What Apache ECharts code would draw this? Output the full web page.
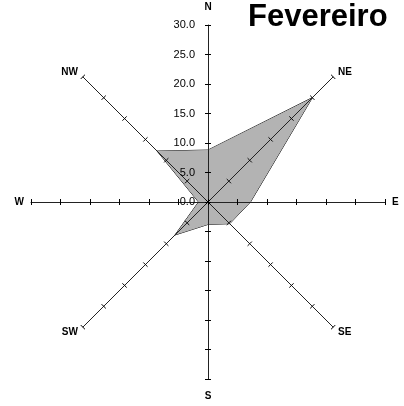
<!DOCTYPE html>
<html>
<head>
<meta charset="utf-8">
<script src="https://cdn.jsdelivr.net/npm/echarts@6/dist/echarts.min.js"></script>
<style>html,body{margin:0;padding:0;background:#fff}#c{width:404px;height:406px}</style>
</head>
<body>
<div id="c"></div>
<script>
// Directions in ECharts radar order (counter-clockwise from top)
const directions = ['N', 'NW', 'W', 'SW', 'S', 'SE', 'E', 'NE'];
const values = [8.8, 12.2, 1.6, 7.9, 3.8, 5.2, 7.2, 25.0];
const axisMin = 0;
const axisMax = 30;
const tickStep = 5;
const titleText = 'Fevereiro';

const FONT = '"Liberation Sans", Arial, sans-serif';
const center = [208, 202];
const radius = 177;

function nameGapFor(d) {
  if (d === 'N') return 13;
  if (d === 'S') return 12;
  return 7;
}

const indicators0 = directions.map(d => ({
  name: d, min: axisMin, max: axisMax, nameGap: nameGapFor(d),
  axisLabel: d === 'N' ? {show: true} : {show: false}
}));
// second radar: same axes, ticks drawn on the other side
const indicators1 = directions.map(d => ({ name: '', min: axisMin, max: axisMax }));

const chart = echarts.init(document.getElementById('c'), null, {renderer: 'canvas'});
chart.setOption({
  animation: false,
  backgroundColor: '#fff',
  title: {
    text: titleText, left: 248, top: 2, padding: 0,
    textStyle: {fontFamily: FONT, fontSize: 31, fontWeight: 'bold', color: '#000'}
  },
  radar: [
    {
      z: 3,
      center: center, radius: radius, startAngle: 90, shape: 'polygon',
      splitNumber: axisMax / tickStep,
      indicator: indicators0,
      axisName: {color: '#000', fontFamily: FONT, fontSize: 10, fontWeight: 'bold'},
      axisLine: {show: true, lineStyle: {color: '#222', width: 1}},
      axisTick: {show: true, length: 3, lineStyle: {color: '#000', width: 1}},
      axisLabel: {
        show: false, margin: 13, color: '#000', fontFamily: FONT, fontSize: 11,
        formatter: v => Number(v).toFixed(1)
      },
      splitLine: {show: false},
      splitArea: {show: false}
    },
    {
      z: 4,
      center: center, radius: radius, startAngle: 90, shape: 'polygon',
      splitNumber: axisMax / tickStep,
      indicator: indicators1,
      axisName: {show: false},
      axisLine: {show: true, lineStyle: {color: 'rgba(0,0,0,0)', width: 1}},
      axisTick: {show: true, length: -3, lineStyle: {color: '#000', width: 1}},
      axisLabel: {show: false},
      splitLine: {show: false},
      splitArea: {show: false}
    }
  ],
  series: [{
    type: 'radar', radarIndex: 0, z: 2, symbol: 'none',
    lineStyle: {color: '#000', width: 1},
    areaStyle: {color: '#b3b3b3', opacity: 1},
    data: [{value: values, name: titleText}]
  }]
});
</script>
</body>
</html>
